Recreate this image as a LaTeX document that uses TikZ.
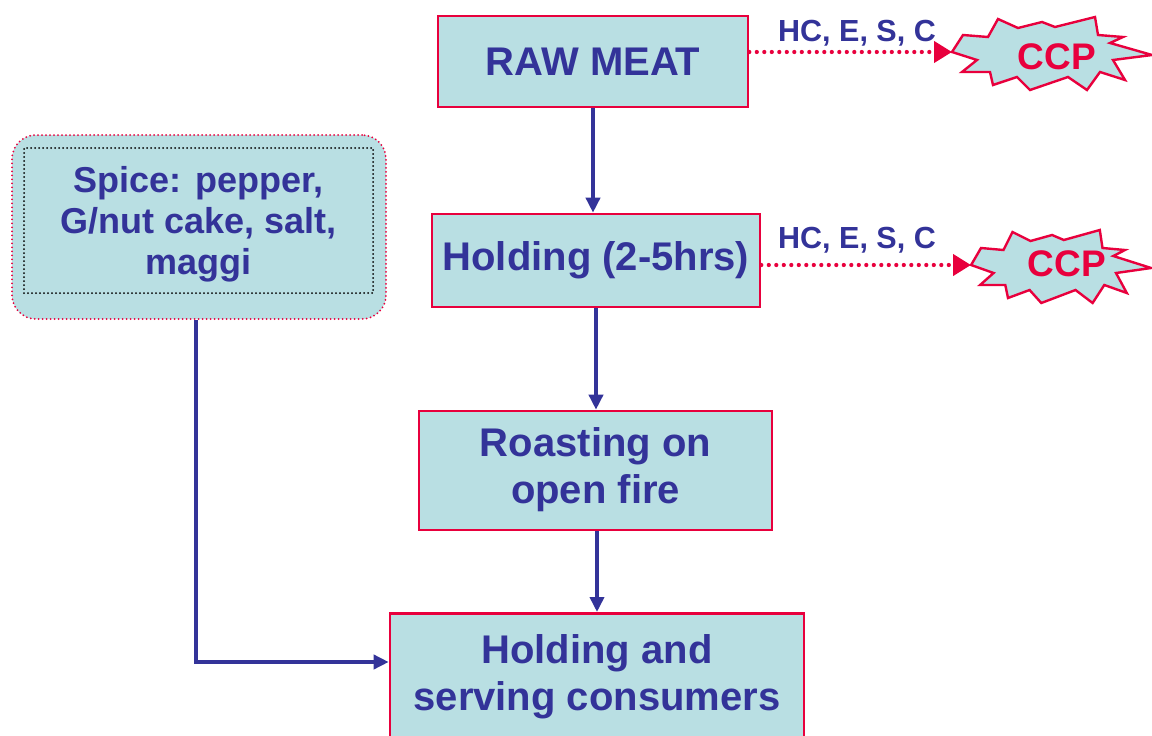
\documentclass[tikz,border=0pt]{standalone}
\usepackage{fontspec}
\setmainfont{Liberation Sans}
\usetikzlibrary{arrows.meta,calc}
\definecolor{boxfill}{HTML}{B9DFE3}
\definecolor{boxred}{HTML}{E8003D}
\definecolor{navy}{HTML}{333399}
\tikzset{
  x=1pt,y=-1pt,
  stepbox/.style={draw=boxred,line width=2.6pt,fill=boxfill,text=navy,font=\bfseries\fontsize{40}{47}\selectfont,align=center,inner sep=0pt},
  flow/.style={draw=navy,line width=3.6pt,-{Triangle[width=14pt,length=15pt]}},
  ccparrow/.style={draw=boxred,line width=4.2pt,line cap=round,dash pattern=on 0pt off 7.5pt,-{Triangle[width=21pt,length=18pt,line cap=butt]}},
  hclabel/.style={text=navy,font=\bfseries\fontsize{30.5}{34}\selectfont,inner sep=0pt},
  burst/.style={draw=boxred,line width=2.4pt,fill=boxfill,line join=miter},
  ccptext/.style={text=boxred,font=\bfseries\fontsize{37}{40}\selectfont,inner sep=0pt},
  bodytext/.style={text=navy,font=\bfseries\fontsize{40}{47}\selectfont,align=center,inner sep=0pt},
}
\begin{document}
\begin{tikzpicture}
\useasboundingbox (0,0) rectangle (1152,736);
\clip (0,0) rectangle (1152,736);
\fill[white] (0,0) rectangle (1152,736);

% main boxes
\node[stepbox,minimum width=310,minimum height=91] (raw) at (593,61.5) {RAW MEAT};
\node[stepbox,minimum width=328,minimum height=93] (hold) at (596,260.5) {Holding (2-5hrs)};
\node[stepbox,minimum width=353,minimum height=119] (roast) at (595.5,470.5) {};
\node[bodytext] (roasttext) at (595.5,470) {Roasting on\\open fire};
\node[stepbox,minimum width=414,minimum height=170,anchor=north] (serve) at (597,612) {};
\node[bodytext] (servetext) at (597,677) {Holding and\\serving consumers};

% spice box
\node[draw=boxred,line width=2pt,dash pattern=on 0pt off 4pt,line cap=round,fill=boxfill,rounded corners=24pt,minimum width=374,minimum height=184,inner sep=0pt] (spiceouter) at (199,227) {};
\node[draw=black,line width=2pt,dash pattern=on 0pt off 4pt,line cap=round,minimum width=349,minimum height=145,inner sep=0pt] (spicebox) at (198.5,220.5) {};
\node[text=navy,font=\bfseries\fontsize{36}{41}\selectfont,align=center,inner sep=0pt] (spice) at (198.5,224.5) {Spice: pepper,\\G/nut cake, salt,\\maggi};

% flow arrows
\draw[flow] (raw.south) -- (hold.north -| raw.south);
\draw[flow] (hold.south) -- (roast.north -| hold.south);
\draw[flow] (roast.south -| serve.north) -- (serve.north);
\draw[flow] (spiceouter.south) ++(-3,0) |- ($(serve.north west)+(0,50)$);

% starbursts
\draw[burst,shift={(1053,55)}] (-90,-20) -- (-65,-18) -- (-55,-36) -- (-35,-27) -- (-11,-33) -- (2,-28) -- (42,-38) -- (45,-20) -- (70,-18) -- (57,-12) -- (99,0) -- (60,5) -- (72,25) -- (47,17) -- (34,35) -- (15,22) -- (-23,35) -- (-36,22) -- (-60,30) -- (-63,17) -- (-91,17) -- (-76,5) -- (-101,-3) -- cycle;
\coordinate (tip1) at (952,52);
\node[ccptext] (ccp1) at (1057,57) {CCP};

\draw[burst,shift={(1062,268)},xscale=0.9] (-90,-20) -- (-65,-18) -- (-55,-36) -- (-35,-27) -- (-11,-33) -- (2,-28) -- (42,-38) -- (45,-20) -- (70,-18) -- (57,-12) -- (99,0) -- (60,5) -- (72,25) -- (47,17) -- (34,35) -- (15,22) -- (-23,35) -- (-36,22) -- (-60,30) -- (-63,17) -- (-91,17) -- (-76,5) -- (-101,-3) -- cycle;
\coordinate (tip2) at (971,265);
\node[ccptext] (ccp2) at (1067,264) {CCP};

% CCP arrows
\draw[ccparrow] (raw.east |- tip1) -- (tip1);
\node[hclabel] (hc1) at (857,33) {HC, E, S, C};
\draw[ccparrow] (hold.east |- tip2) -- (tip2);
\node[hclabel] (hc2) at (857,240) {HC, E, S, C};
\end{tikzpicture}
\end{document}
